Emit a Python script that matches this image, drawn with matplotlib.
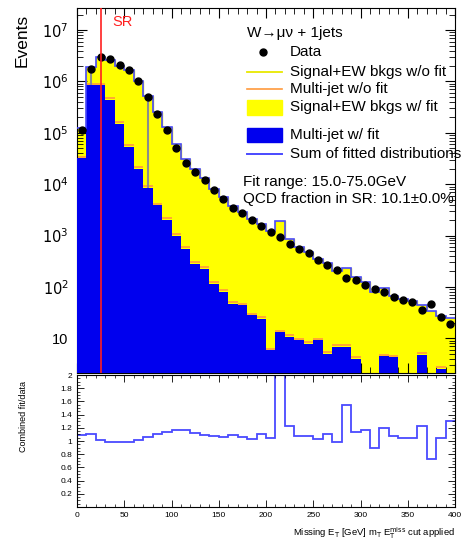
import numpy as np
import matplotlib
matplotlib.use("Agg")
import matplotlib.pyplot as plt
from matplotlib.ticker import FixedLocator, FuncFormatter, MultipleLocator, LogLocator, NullFormatter
from matplotlib.patches import Rectangle

plt.rcParams['font.family'] = ['Liberation Sans', 'DejaVu Sans']

# ---------------- data ----------------
bin_edges = np.arange(0, 410, 10)  # 0..400 GeV, 10 GeV bins

data_counts = [1.15e5, 1.78e6, 2.95e6, 2.69e6, 2.09e6, 1.66e6, 1.02e6, 5.0e5, 2.3e5, 1.15e5,
               5.1e4, 2.6e4, 1.74e4, 1.2e4, 7.6e3, 5.2e3, 3.5e3, 2.75e3, 2.0e3, 1.5e3,
               1.17e3, 930, 690, 550, 450, 340, 263, 209, 148, 135,
               107, 91, 79, 63, 55, 50, 36, 47, 26, 19]

fit_over_data = [1.09, 1.10, 1.02, 0.99, 0.98, 0.99, 1.02, 1.06, 1.10, 1.14,
                 1.17, 1.17, 1.12, 1.09, 1.08, 1.06, 1.09, 1.06, 1.03, 1.10,
                 1.04, 2.10, 1.22, 1.07, 1.07, 1.03, 1.10, 0.99, 1.54, 1.13,
                 1.16, 0.89, 1.19, 1.07, 1.05, 1.04, 1.22, 0.72, 1.04, 1.30]

multijet_fit = [3.2e4, 8.5e5, 8.5e5, 4.4e5, 1.5e5, 5.4e4, 2.0e4, 8.5e3, 3.9e3, 2.0e3,
                1.0e3, 550, 280, 224, 115, 79, 47, 44, 28, 24,
                5.8, 13, 10.5, 9.1, 7.8, 9.1, 5.0, 6.8, 6.8, 4.0,
                0, 0, 4.5, 4.3, 0, 0, 4.8, 0, 2.5, 0]

multijet_nofit = [3.4e4, 9.0e5, 9.0e5, 4.7e5, 1.6e5, 5.8e4, 2.15e4, 9.1e3, 4.2e3, 2.15e3,
                  1.08e3, 590, 300, 240, 124, 85, 51, 47, 30, 26,
                  6.3, 14, 11.3, 9.8, 8.4, 9.8, 5.4, 7.3, 7.3, 4.3,
                  0, 0, 4.8, 4.6, 0, 0, 5.2, 0, 2.7, 0]

sr_cut = 25.0
fit_range = (15.0, 75.0)
qcd_fraction = "10.1\u00b10.0%"

data = np.array(data_counts)
ratio = np.array(fit_over_data)
mj = np.array(multijet_fit)
mj_nofit = np.array(multijet_nofit)
total = data * ratio
centers = 0.5 * (bin_edges[:-1] + bin_edges[1:])

W, H = 462, 544
fig = plt.figure(figsize=(W / 100, H / 100), dpi=100)

def fx(px):
    return px / W

def fy(py):
    return 1 - py / H

L, R = 77, 455
ax = fig.add_axes([fx(L), fy(373), fx(R) - fx(L), fy(8) - fy(373)])
axr = fig.add_axes([fx(L), fy(507), fx(R) - fx(L), fy(375) - fy(507)])

YMIN, YMAX = 2.1, 2.7e7
floor = 1e-3

YELLOW = '#ffff00'
BLUE = '#0000ee'
SUMC = '#4a4aff'
ORANGE = '#ff9a3c'

ax.set_yscale('log')
ax.stairs(np.clip(total, floor, None), bin_edges, fill=True, color=YELLOW, baseline=floor, zorder=1)
ax.stairs(np.clip(total, floor, None), bin_edges, color='#e8e800', lw=1, baseline=None, zorder=2)
nz = mj_nofit > 0
ax.hlines(mj_nofit[nz], bin_edges[:-1][nz], bin_edges[1:][nz], color=ORANGE, lw=1.2, zorder=2)
ax.stairs(np.clip(mj, floor, None), bin_edges, fill=True, color=BLUE, baseline=floor, zorder=3)
ax.stairs(np.clip(total, floor, None), bin_edges, color=SUMC, lw=1.2, baseline=None, zorder=4)

for xr in fit_range:
    i = int(xr // 10)
    ax.vlines(xr, mj[i], total[i], color='#8c8c8c', lw=1.5, zorder=5)

ax.plot(centers, data, 'o', color='black', ms=5, zorder=6)
ax.axvline(sr_cut, color='#ff2020', lw=1.2, zorder=7)
ax.text(37, 1.45e7, 'SR', color='#ff2020', fontsize=10.5, va='center', ha='left', zorder=8)

ax.set_xlim(0, 400)
ax.set_ylim(YMIN, YMAX)
ax.yaxis.set_major_locator(FixedLocator([10, 1e2, 1e3, 1e4, 1e5, 1e6, 1e7]))
def yfmt(v, pos):
    e = int(round(np.log10(v)))
    return '10' if e == 1 else r'$10^{%d}$' % e
ax.yaxis.set_major_formatter(FuncFormatter(yfmt))
ax.yaxis.set_minor_locator(LogLocator(base=10, subs=np.arange(2, 10)))
ax.yaxis.set_minor_formatter(NullFormatter())
ax.xaxis.set_major_locator(MultipleLocator(50))
ax.xaxis.set_minor_locator(MultipleLocator(10))
ax.tick_params(axis='both', which='both', direction='in', top=True, right=True, labelbottom=False)
ax.tick_params(axis='both', which='major', length=7, width=0.8)
ax.tick_params(axis='both', which='minor', length=4, width=0.6)
ax.tick_params(axis='y', labelsize=10.5, pad=6)
for s in ax.spines.values():
    s.set_linewidth(0.8)

axr.stairs(ratio, bin_edges, color=SUMC, lw=1.3, baseline=None)
axr.set_xlim(0, 400)
axr.set_ylim(0, 2)
axr.yaxis.set_major_locator(FixedLocator([0.2, 0.4, 0.6, 0.8, 1.0, 1.2, 1.4, 1.6, 1.8, 2.0]))
axr.yaxis.set_major_formatter(FuncFormatter(lambda v, p: ('%g' % round(v, 1))))
axr.yaxis.set_minor_locator(MultipleLocator(0.05))
axr.xaxis.set_major_locator(MultipleLocator(50))
axr.xaxis.set_minor_locator(MultipleLocator(10))
axr.tick_params(axis='both', which='both', direction='in', top=True, right=True)
axr.tick_params(axis='both', which='major', length=5, width=0.6, labelsize=6)
axr.tick_params(axis='both', which='minor', length=2.5, width=0.5)
for s in axr.spines.values():
    s.set_linewidth(0.8)

fig.text(fx(22), fy(40), 'Events', rotation=90, fontsize=12.5, ha='center', va='center')
fig.text(fx(23), fy(416), 'Combined fit/data', rotation=90, fontsize=6.5, ha='center', va='center')
fig.text(fx(455), fy(533), r'Missing E$_{\mathrm{T}}$ [GeV] m$_{\mathrm{T}}$ E$_{\mathrm{T}}^{\mathrm{miss}}$ cut applied',
         fontsize=6.8, ha='right', va='center')

ov = fig.add_axes([0, 0, 1, 1], facecolor='none')
ov.set_xlim(0, W)
ov.set_ylim(H, 0)
ov.axis('off')
lx0, lx1, tx = 247, 282, 290
fs = 11
ov.text(lx0, 33, 'W\u2192\u03bc\u03bd + 1jets', fontsize=fs, va='center', ha='left')
ov.plot([263], [52], 'o', color='black', ms=5)
ov.text(tx, 52, 'Data', fontsize=fs, va='center')
ov.plot([lx0, lx1], [72, 72], color='#e8e800', lw=1.3)
ov.text(tx, 72, 'Signal+EW bkgs w/o fit', fontsize=fs, va='center')
ov.plot([lx0, lx1], [89, 89], color=ORANGE, lw=1.2)
ov.text(tx, 89, 'Multi-jet w/o fit', fontsize=fs, va='center')
ov.add_patch(Rectangle((lx0, 100), lx1 - lx0, 15, color=YELLOW))
ov.text(tx, 107, 'Signal+EW bkgs w/ fit', fontsize=fs, va='center')
ov.add_patch(Rectangle((lx0, 128), lx1 - lx0, 14, color=BLUE))
ov.text(tx, 135, 'Multi-jet w/ fit', fontsize=fs, va='center')
ov.plot([lx0, lx1], [154, 154], color=SUMC, lw=1.4)
ov.text(tx, 154, 'Sum of fitted distributions', fontsize=fs, va='center')
ov.text(243, 182, 'Fit range: %.1f-%.1fGeV' % fit_range, fontsize=fs, va='center')
ov.text(243, 199, 'QCD fraction in SR: ' + qcd_fraction, fontsize=fs, va='center')

fig.savefig('out.png', dpi=100)
